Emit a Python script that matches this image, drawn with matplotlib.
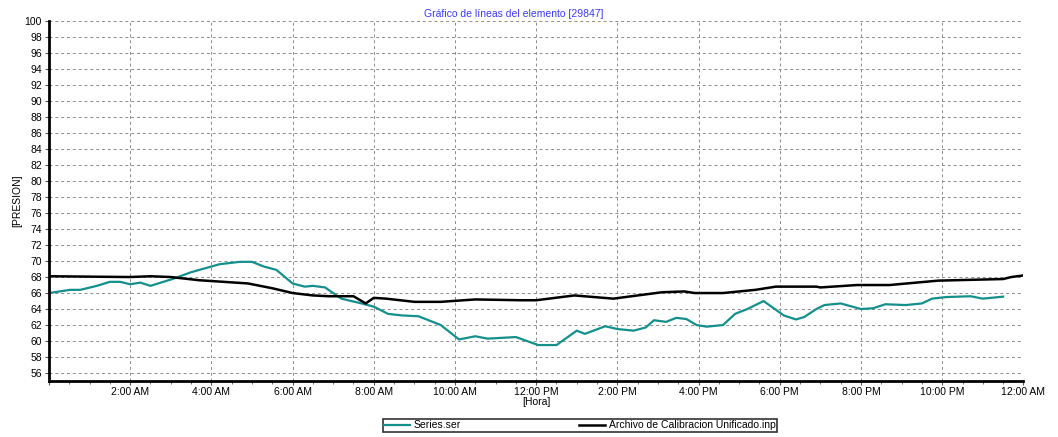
import matplotlib
matplotlib.use('Agg')
import matplotlib.pyplot as plt
from matplotlib.ticker import MultipleLocator

plt.rcParams['font.family'] = ['Liberation Sans', 'DejaVu Sans']

# hours since midnight
series_hours = [0.0, 0.52, 0.77, 1.18, 1.5, 1.75, 2.0, 2.25, 2.5, 3.07, 3.5, 4.2, 4.7, 5.0,
                5.3, 5.6, 6.0, 6.3, 6.5, 6.8, 7.2, 7.7, 8.0, 8.35, 8.7, 9.1, 9.65, 10.1,
                10.5, 10.8, 11.5, 12.05, 12.5, 13.0, 13.2, 13.7, 14.0, 14.4, 14.7, 14.9,
                15.2, 15.45, 15.7, 15.95, 16.2, 16.6, 16.9, 17.2, 17.6, 18.1, 18.4, 18.6,
                18.9, 19.1, 19.5, 20.0, 20.3, 20.6, 21.1, 21.5, 21.75, 22.1, 22.7, 23.0, 23.5]
series_vals = [66.0, 66.4, 66.4, 66.9, 67.4, 67.4, 67.1, 67.3, 66.9, 67.8, 68.6, 69.6, 69.9, 69.9,
               69.3, 68.9, 67.2, 66.8, 66.9, 66.7, 65.3, 64.7, 64.3, 63.4, 63.2, 63.1, 62.0, 60.2,
               60.6, 60.3, 60.5, 59.5, 59.5, 61.3, 60.9, 61.85, 61.5, 61.3, 61.7, 62.6,
               62.4, 62.9, 62.75, 62.0, 61.8, 62.0, 63.4, 64.0, 65.0, 63.2, 62.7, 63.0,
               64.0, 64.5, 64.7, 64.0, 64.1, 64.6, 64.5, 64.7, 65.3, 65.5, 65.6, 65.3, 65.55]

calib_hours = [0.0, 2.0, 2.5, 3.0, 3.7, 4.9, 5.5, 6.0, 6.5, 6.9, 7.5, 7.8, 8.0, 8.3, 9.0,
               9.65, 10.5, 11.63, 12.0, 12.94, 13.9, 15.1, 15.65, 15.9, 16.6, 17.4, 17.9,
               18.9, 19.0, 19.9, 20.7, 21.9, 23.5, 23.7, 24.0]
calib_vals = [68.1, 68.0, 68.1, 68.0, 67.6, 67.2, 66.6, 66.0, 65.7, 65.6, 65.6, 64.7, 65.4, 65.3, 64.9,
              64.9, 65.2, 65.1, 65.1, 65.7, 65.3, 66.1, 66.2, 66.0, 66.0, 66.4, 66.8,
              66.8, 66.7, 67.0, 67.0, 67.55, 67.75, 68.0, 68.2]

tick_hours = list(range(0, 25, 2))
tick_labels = ['', '2:00 AM', '4:00 AM', '6:00 AM', '8:00 AM', '10:00 AM', '12:00 PM',
               '2:00 PM', '4:00 PM', '6:00 PM', '8:00 PM', '10:00 PM', '12:00 AM']

teal = '#14908c'
fs = 7.5

fig = plt.figure(figsize=(10.58, 4.37), dpi=100)
ax = fig.add_axes([0.0463, 0.128, 0.921, 0.824])

l1, = ax.plot(series_hours, series_vals, color=teal, lw=1.6, label='Series.ser')
l2, = ax.plot(calib_hours, calib_vals, color='black', lw=1.8, label='Archivo de Calibracion Unificado.inp')

ax.set_xlim(0, 24)
ax.set_ylim(55, 100)
ax.set_yticks(range(56, 101, 2))
ax.set_xticks(tick_hours)
ax.set_xticklabels(tick_labels)
ax.xaxis.set_minor_locator(MultipleLocator(0.5))
ax.tick_params(axis='both', labelsize=fs, length=3, color='#555555', pad=2)
ax.tick_params(axis='x', which='minor', length=2, color='#555555')
ax.tick_params(axis='x', pad=1)

ax.grid(True, which='major', color='#8c8c8c', lw=0.7, linestyle=(0, (3, 3)))
for side in ['top', 'right']:
    ax.spines[side].set_visible(False)
for side in ['left', 'bottom']:
    ax.spines[side].set_linewidth(2)
    ax.spines[side].set_color('black')

ax.set_ylabel('[PRESION]', fontsize=fs, labelpad=2)
ax.set_xlabel('[Hora]', fontsize=fs, labelpad=0)
ax.set_title('Gráfico de líneas del elemento [29847]', fontsize=fs, color='#3a3aff', pad=3, x=0.477)

leg = fig.legend(handles=[l1, l2], loc='center', bbox_to_anchor=(0.548, 0.027), ncol=2,
                 fontsize=fs, frameon=True, fancybox=False, edgecolor='black',
                 handlelength=2.5, handletextpad=0.3, columnspacing=11.4,
                 borderpad=0.15)
leg.get_frame().set_linewidth(1.2)

fig.savefig('out.png', dpi=100)
